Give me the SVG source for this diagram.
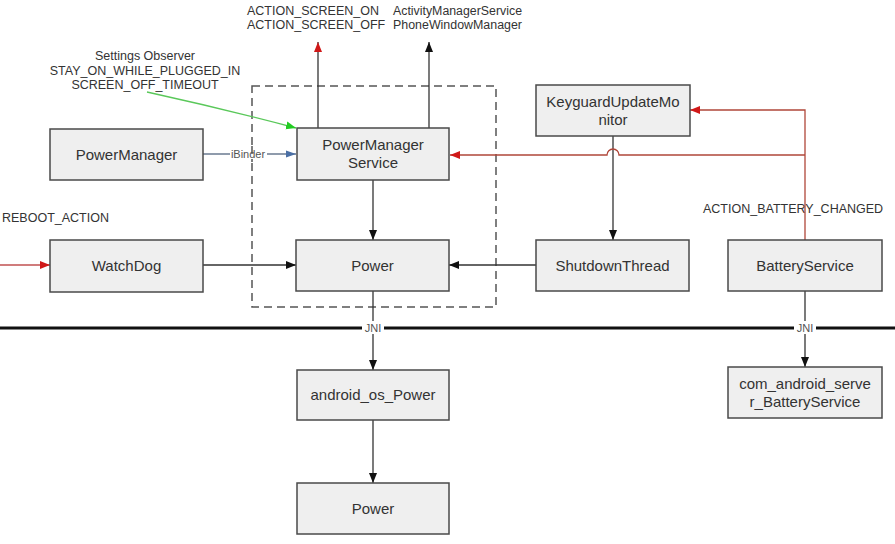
<svg xmlns="http://www.w3.org/2000/svg" width="895" height="544" viewBox="0 0 895 544">
<style>
.box{fill:#efefef;stroke:#4a4a4a;stroke-width:1.5}
.bt{font-family:"Liberation Sans",Arial,sans-serif;font-size:15px;fill:#333;text-anchor:middle}
.lbl{font-family:"Liberation Sans",Arial,sans-serif;font-size:12.5px;fill:#333}
.sm{font-family:"Liberation Sans",Arial,sans-serif;font-size:11px;fill:#555;text-anchor:middle}
.ln{fill:none;stroke:#333;stroke-width:1.3}
.red{fill:none;stroke:#b0473a;stroke-width:1.3}
</style>
<defs>
<marker id="ab" markerWidth="10" markerHeight="10" viewBox="0 0 10 10" refX="10" refY="5" orient="auto" markerUnits="userSpaceOnUse"><path d="M0,1 L10,5 L0,9 Z" fill="#111"/></marker>
<marker id="ar" markerWidth="10" markerHeight="10" viewBox="0 0 10 10" refX="10" refY="5" orient="auto" markerUnits="userSpaceOnUse"><path d="M0,1 L10,5 L0,9 Z" fill="#d01818"/></marker>
<marker id="ag" markerWidth="10" markerHeight="10" viewBox="0 0 10 10" refX="10" refY="5" orient="auto" markerUnits="userSpaceOnUse"><path d="M0,1 L10,5 L0,9 Z" fill="#22cc22"/></marker>
<marker id="abl" markerWidth="10" markerHeight="10" viewBox="0 0 10 10" refX="10" refY="5" orient="auto" markerUnits="userSpaceOnUse"><path d="M0,1.5 L10,5 L0,8.5 Z" fill="#4a6fa5"/></marker>
</defs>
<rect width="895" height="544" fill="#fff"/>

<!-- dashed boundary -->
<rect x="252" y="86" width="244" height="221" fill="none" stroke="#555" stroke-width="1.5" stroke-dasharray="8,5"/>

<!-- JNI divider -->
<line x1="0" y1="328" x2="895" y2="328" stroke="#111" stroke-width="3"/>

<!-- free labels -->
<text class="lbl" x="247" y="15">ACTION_SCREEN_ON</text>
<text class="lbl" x="247" y="29">ACTION_SCREEN_OFF</text>
<text class="lbl" x="393" y="15" textLength="129" lengthAdjust="spacingAndGlyphs" font-size="11">ActivityManagerService</text>
<text class="lbl" x="393" y="29" textLength="129" lengthAdjust="spacingAndGlyphs" font-size="11">PhoneWindowManager</text>
<text class="lbl" x="145" y="60" text-anchor="middle">Settings Observer</text>
<text class="lbl" x="145" y="75" text-anchor="middle">STAY_ON_WHILE_PLUGGED_IN</text>
<text class="lbl" x="145" y="89" text-anchor="middle">SCREEN_OFF_TIMEOUT</text>
<text class="lbl" x="2" y="222">REBOOT_ACTION</text>
<text class="lbl" x="703" y="213">ACTION_BATTERY_CHANGED</text>

<g id="connectors">
  <path class="ln" d="M318,128 V42" stroke="#555" marker-end="url(#ar)"/>
  <path class="ln" d="M429,128 V42" marker-end="url(#ab)"/>
  <path d="M147,92 Q220,108 296,128" fill="none" stroke="#5ac85a" stroke-width="1.3" marker-end="url(#ag)"/>
  <path d="M203,154 H296" fill="none" stroke="#6a7a90" stroke-width="1.3" marker-end="url(#abl)"/>
  <rect x="230" y="147" width="37" height="14" fill="#fff"/>
  <text class="sm" x="248" y="158">iBinder</text>
  <line x1="252" y1="146" x2="252" y2="162" stroke="#555" stroke-width="1.5" stroke-dasharray="8,5"/>
  <path class="ln" d="M373,180 V240" marker-end="url(#ab)"/>
  <path class="ln" d="M203,265 H296" marker-end="url(#ab)"/>
  <path d="M0,265 H50" fill="none" stroke="#c05050" stroke-width="1.3" marker-end="url(#ar)"/>
  <path class="ln" d="M536,265 H449" marker-end="url(#ab)"/>
  <path class="ln" d="M613,136 V240" marker-end="url(#ab)"/>
  <path class="red" d="M805,240 V110 H690" marker-end="url(#ar)"/>
  <path class="red" d="M805,155 H619 A6,6 0 0 0 607,155 H450" marker-end="url(#ar)"/>
  <path class="ln" d="M373,291 V370" marker-end="url(#ab)"/>
  <path class="ln" d="M373,420 V483" marker-end="url(#ab)"/>
  <path class="ln" d="M805,291 V367" marker-end="url(#ab)"/>
  <rect x="362" y="321" width="22" height="13" fill="#fff"/>
  <text class="sm" x="373" y="332">JNI</text>
  <rect x="794" y="321" width="22" height="13" fill="#fff"/>
  <text class="sm" x="805" y="332">JNI</text>
</g>

<g id="PowerManager"><rect class="box" x="50" y="129" width="153" height="51"/><text class="bt" x="126.5" y="160">PowerManager</text></g>
<g id="PowerManagerService"><rect class="box" x="297" y="128" width="152" height="52"/><text class="bt" x="373" y="150">PowerManager</text><text class="bt" x="373" y="168">Service</text></g>
<g id="KeyguardUpdateMonitor"><rect class="box" x="536" y="85" width="154" height="51"/><text class="bt" x="613" y="107">KeyguardUpdateMo</text><text class="bt" x="613" y="125">nitor</text></g>
<g id="WatchDog"><rect class="box" x="50" y="240" width="153" height="52"/><text class="bt" x="126.5" y="271">WatchDog</text></g>
<g id="Power"><rect class="box" x="296" y="240" width="153" height="51"/><text class="bt" x="372.5" y="271">Power</text></g>
<g id="ShutdownThread"><rect class="box" x="536" y="240" width="153" height="51"/><text class="bt" x="612.5" y="271">ShutdownThread</text></g>
<g id="BatteryService"><rect class="box" x="728" y="240" width="154" height="51"/><text class="bt" x="805" y="271">BatteryService</text></g>
<g id="android_os_Power"><rect class="box" x="297" y="370" width="152" height="50"/><text class="bt" x="373" y="400">android_os_Power</text></g>
<g id="com_android_server_BatteryService"><rect class="box" x="728" y="367" width="154" height="51"/><text class="bt" x="805" y="389">com_android_serve</text><text class="bt" x="805" y="407">r_BatteryService</text></g>
<g id="PowerNative"><rect class="box" x="297" y="483" width="152" height="51"/><text class="bt" x="373" y="514">Power</text></g>
</svg>
